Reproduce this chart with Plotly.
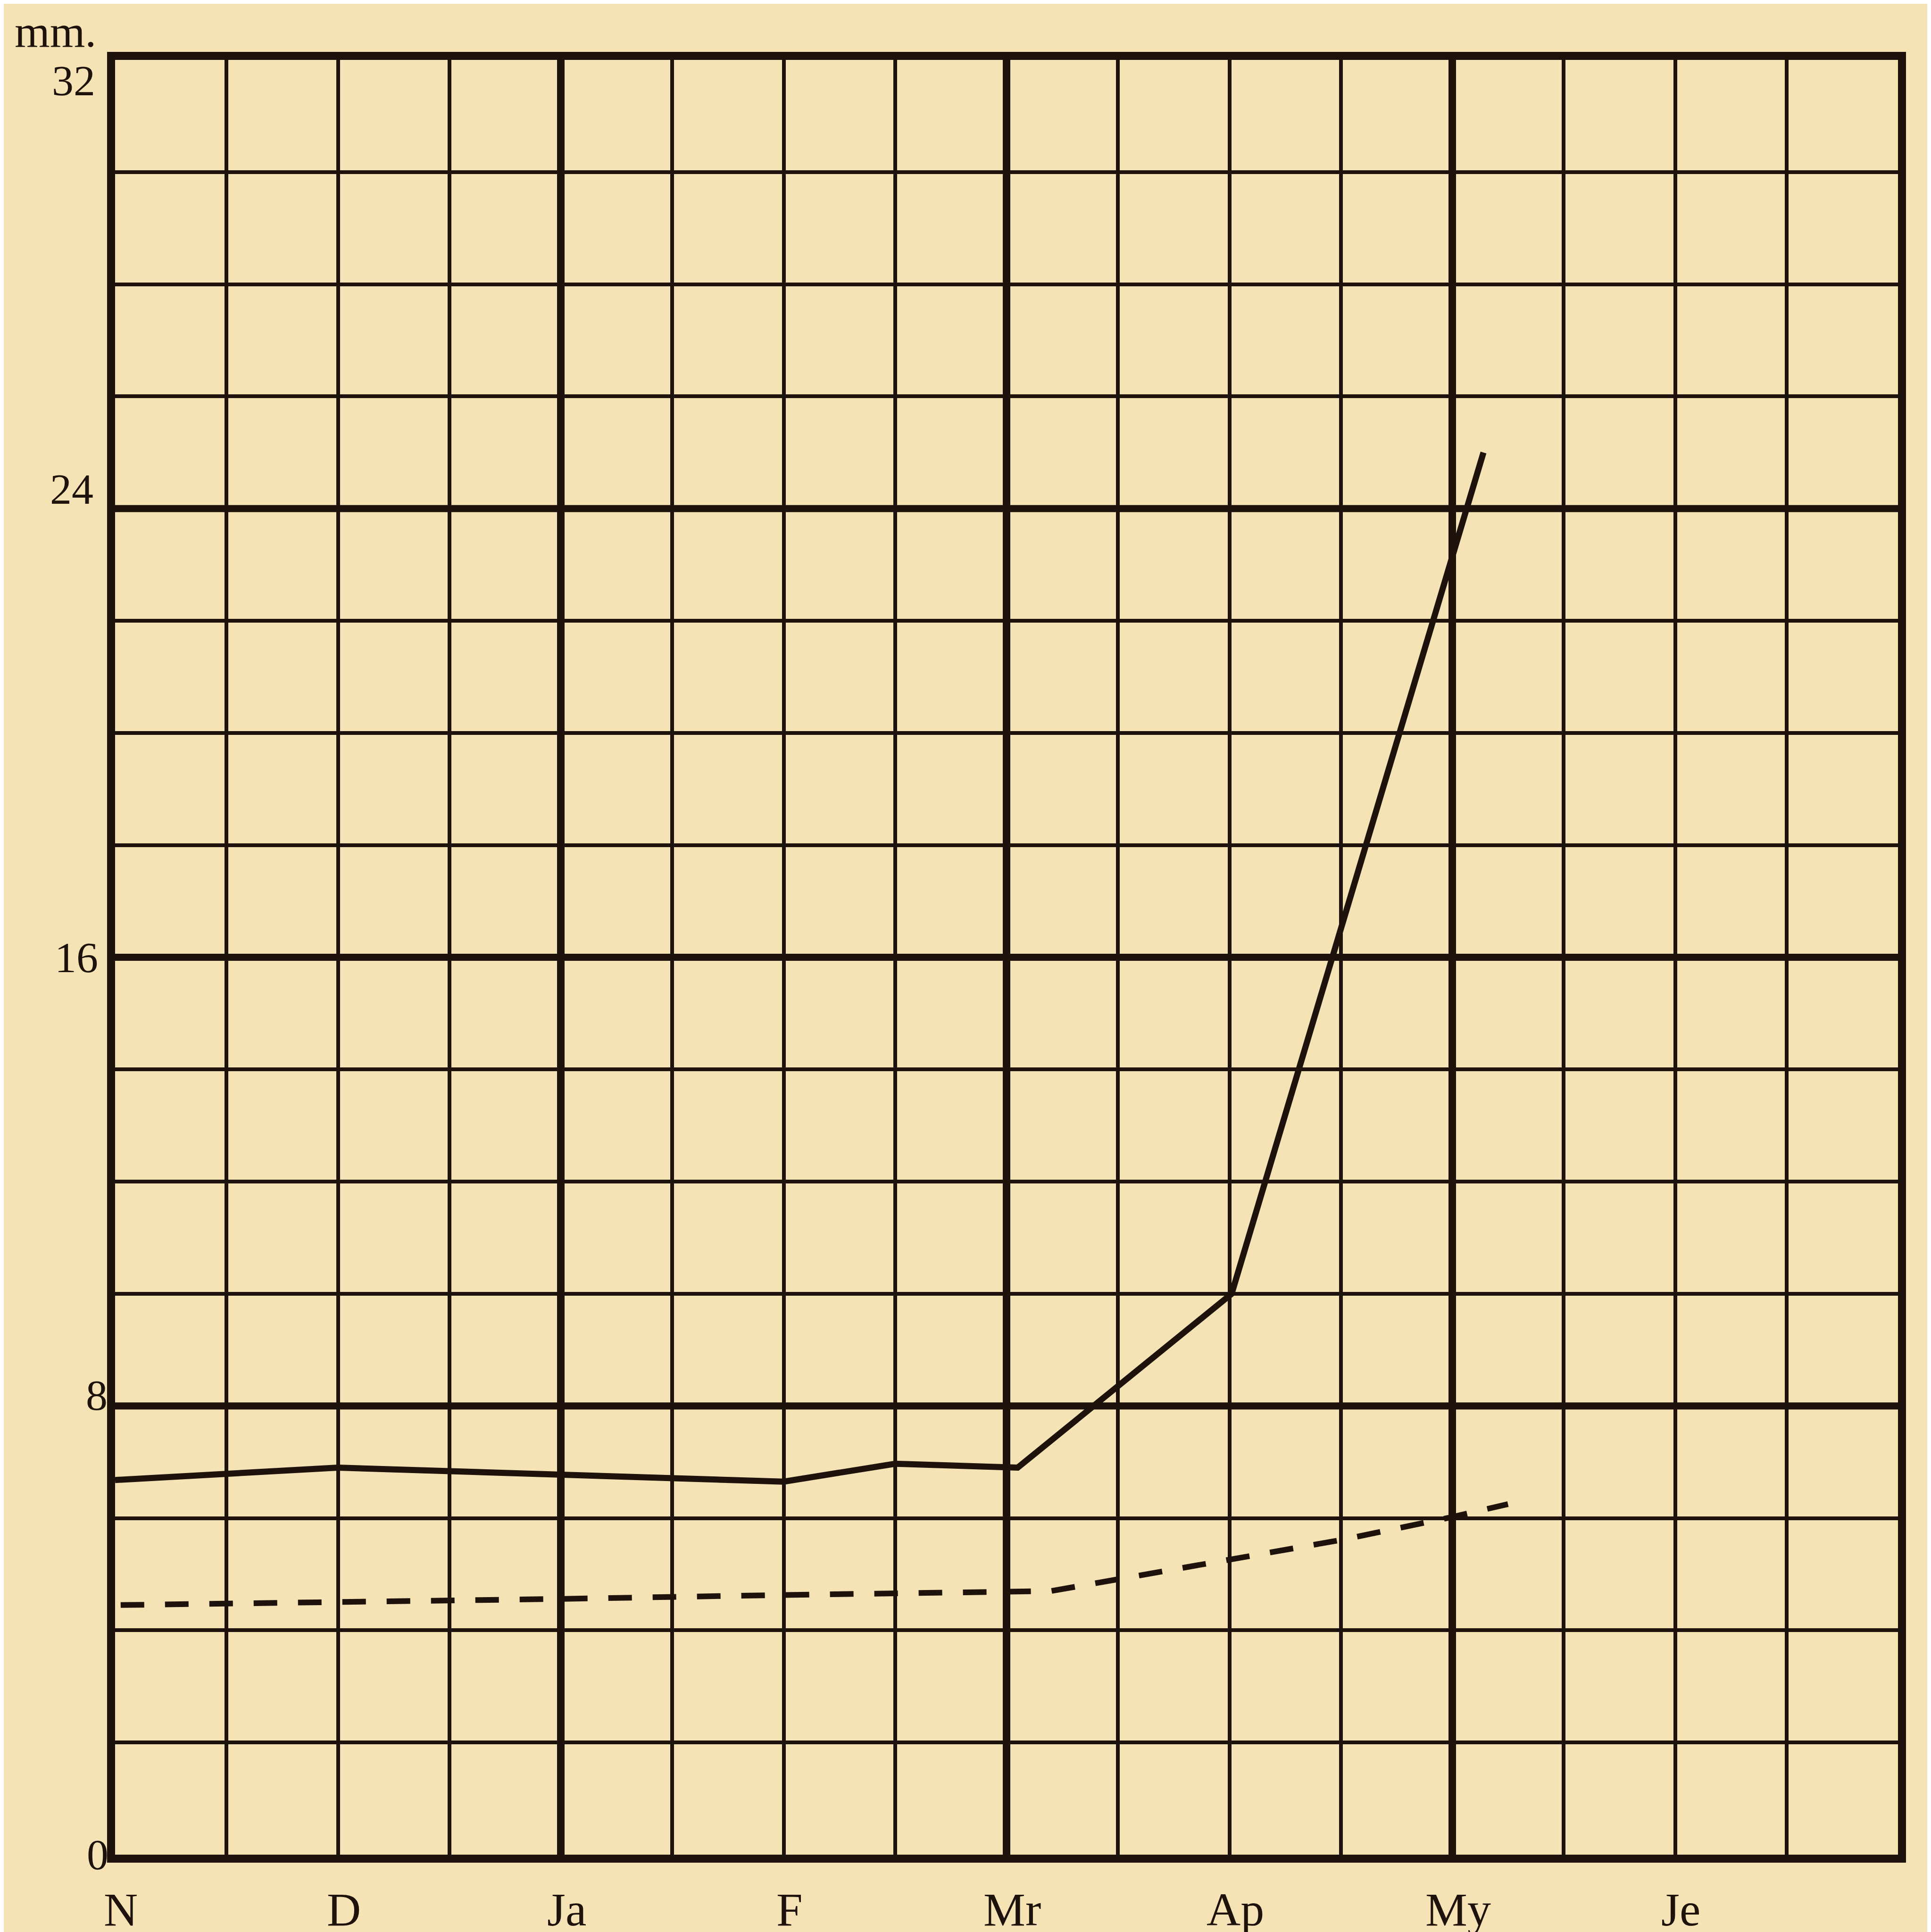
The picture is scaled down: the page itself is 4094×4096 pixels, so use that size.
import plotly.graph_objects as go

# ---- data (x in half-month steps from N) ----
months = ["N", "D", "Ja", "F", "Mr", "Ap", "My", "Je"]
month_pos = [0, 2, 4, 6, 8, 10, 12, 14]
y_ticks = [0, 8, 16, 24, 32]
y_tick_text = ["0", "8", "16", "24", "32"]

solid_x = [0, 2, 6, 7, 8.1, 10.02, 12.28]
solid_y = [6.68, 6.9, 6.65, 6.97, 6.9, 10.0, 25.0]

dash_x = [0.05, 2, 4, 6, 8, 8.4, 10, 11, 12, 12.5]
dash_y = [4.45, 4.5, 4.56, 4.63, 4.68, 4.7, 5.26, 5.61, 6.02, 6.25]

thick_x = [4, 8, 12]
thick_y = [8, 16, 24]

# label offsets (style only, pixels) imitating the old-style figures
ylab_dx = [-12, -14, -34, -44, -40]
ylab_dy = [0, 23, 0, 41, -44]

BG = "#F5E3B5"
INK = "#1e120c"
FONT = "Liberation Serif, Times New Roman, serif"

fig = go.Figure()
fig.add_trace(go.Scatter(x=solid_x, y=solid_y, mode="lines",
                         line=dict(color=INK, width=13), showlegend=False))
fig.add_trace(go.Scatter(x=dash_x, y=dash_y, mode="lines",
                         line=dict(color=INK, width=12, dash="50px,44px"),
                         showlegend=False))

shapes = []
for xv in thick_x:
    shapes.append(dict(type="line", xref="x", yref="y", x0=xv, x1=xv, y0=0, y1=32,
                       line=dict(color=INK, width=16), layer="below"))
for yv in thick_y:
    shapes.append(dict(type="line", xref="x", yref="y", x0=0, x1=16, y0=yv, y1=yv,
                       line=dict(color=INK, width=15), layer="below"))

annotations = [dict(text="mm.", xref="paper", yref="paper", x=-0.0569, y=1.0305,
                    xanchor="left", yanchor="top", showarrow=False,
                    font=dict(size=96, family=FONT, color=INK))]
for val, txt, dx, dy in zip(y_ticks, y_tick_text, ylab_dx, ylab_dy):
    annotations.append(dict(text=txt, xref="paper", yref="y", x=0, y=val,
                            xanchor="right", yanchor="middle", xshift=dx, yshift=dy,
                            showarrow=False, font=dict(size=92, family=FONT, color=INK)))
for pos, txt in zip(month_pos, months):
    annotations.append(dict(text=txt, xref="x", yref="paper", x=pos, y=0,
                            xanchor="center", yanchor="middle", xshift=12, yshift=-116,
                            showarrow=False, font=dict(size=100, family=FONT, color=INK)))

fig.update_layout(
    width=4094, height=4096,
    margin=dict(l=236, r=78, t=119, b=172, autoexpand=False),
    paper_bgcolor=BG, plot_bgcolor=BG,
    font=dict(family=FONT, color=INK),
    shapes=shapes,
    annotations=annotations,
)
fig.update_xaxes(range=[0, 16], tickmode="array", tickvals=month_pos,
                 showticklabels=False,
                 showgrid=True, gridcolor=INK, gridwidth=8,
                 minor=dict(tick0=0, dtick=1, showgrid=True, gridcolor=INK, gridwidth=8),
                 showline=True, linewidth=17, linecolor=INK, mirror=True,
                 zeroline=False, ticks="", automargin=False)
fig.update_yaxes(range=[0, 32], tickmode="array", tickvals=y_ticks,
                 showticklabels=False,
                 showgrid=True, gridcolor=INK, gridwidth=8,
                 minor=dict(tick0=0, dtick=2, showgrid=True, gridcolor=INK, gridwidth=8),
                 showline=True, linewidth=17, linecolor=INK, mirror=True,
                 zeroline=False, ticks="", automargin=False)

fig.write_html("out.html")
